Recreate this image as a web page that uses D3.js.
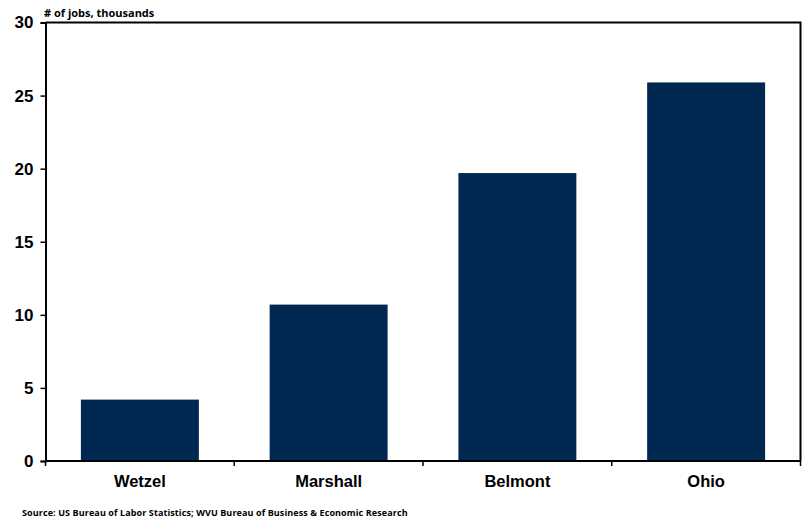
<!DOCTYPE html>
<html>
<head>
<meta charset="utf-8">
<script src="https://cdn.jsdelivr.net/npm/d3@7"></script>
<style>
  html, body { margin: 0; padding: 0; background: #fff; }
  svg { display: block; }
</style>
</head>
<body>
<svg id="chart" width="808" height="519"></svg>
<script>
// Employment by county, thousands of jobs
const counties = ["Wetzel", "Marshall", "Belmont", "Ohio"];
const jobs = [4.2, 10.7, 19.7, 25.9];
const yTicks = [0, 5, 10, 15, 20, 25, 30];

const svg = d3.select("#chart");
const margin = { left: 45.5, right: 7.5, top: 22.5, bottom: 58 };
const W = 808, H = 519;
const x0 = margin.left, x1 = W - margin.right;
const y0 = H - margin.bottom, y1 = margin.top;

const x = d3.scaleBand().domain(counties).range([x0, x1]).paddingInner(0.375).paddingOuter(0.1875);
const y = d3.scaleLinear().domain([0, 30]).range([y0, y1]);

// plot frame (top and right)
svg.append("path")
  .attr("d", `M${x0},${y1}H${x1}V${y0}`)
  .attr("fill", "none").attr("stroke", "#000").attr("stroke-width", 2);

// bars
svg.append("g").selectAll("rect").data(counties).join("rect")
  .attr("x", d => x(d))
  .attr("width", x.bandwidth())
  .attr("y", (d, i) => y(jobs[i]))
  .attr("height", (d, i) => y(0) - y(jobs[i]))
  .attr("fill", "#002850");

// y axis
const yAxis = d3.axisLeft(y).tickValues(yTicks).tickSize(5).tickPadding(7).tickFormat(d3.format("d"));
const gy = svg.append("g").attr("transform", `translate(${x0},0)`).call(yAxis);
gy.select(".domain").attr("stroke-width", 2);
gy.selectAll(".tick line").attr("stroke-width", 1.5);
gy.selectAll("text")
  .attr("font-family", "Liberation Sans, Arial, sans-serif")
  .attr("font-weight", "bold").attr("font-size", 17).attr("fill", "#000");

// x axis: ticks at category boundaries
const gx = svg.append("g").attr("transform", `translate(0,${y0})`);
gx.append("line").attr("x1", x0).attr("x2", x1).attr("stroke", "#000").attr("stroke-width", 2);
const step = x.step();
gx.selectAll(".bound").data(d3.range(counties.length + 1)).join("line")
  .attr("x1", i => x0 + i * step).attr("x2", i => x0 + i * step)
  .attr("y1", 0).attr("y2", 5)
  .attr("stroke", "#000").attr("stroke-width", 1.5);
gx.selectAll("text").data(counties).join("text")
  .attr("x", d => x(d) + x.bandwidth() / 2)
  .attr("y", 26)
  .attr("text-anchor", "middle")
  .attr("font-family", "Liberation Sans, Arial, sans-serif")
  .attr("font-weight", "bold").attr("font-size", 16.5).attr("fill", "#000")
  .text(d => d);

// unit label
svg.append("text")
  .attr("x", 44).attr("y", 17)
  .attr("font-family", "Open Sans, sans-serif")
  .attr("font-weight", "bold").attr("font-size", 11)
  .text("# of jobs, thousands");

// source note
svg.append("text")
  .attr("x", 22).attr("y", 516)
  .attr("font-family", "Open Sans, sans-serif")
  .attr("font-weight", "bold").attr("font-size", 9).attr("letter-spacing", 0.1)
  .text("Source: US Bureau of Labor Statistics; WVU Bureau of Business & Economic Research");
</script>
</body>
</html>
